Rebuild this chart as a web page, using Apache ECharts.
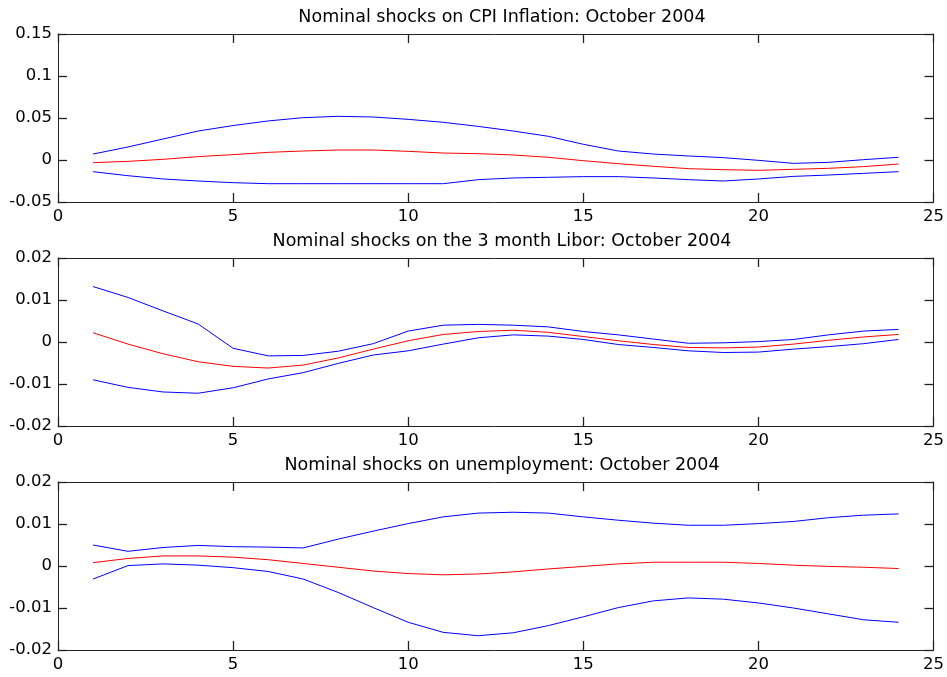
<!DOCTYPE html>
<html><head><meta charset="utf-8">
<script src="https://cdn.jsdelivr.net/npm/echarts@6/dist/echarts.min.js"></script>
<style>html,body{margin:0;padding:0;background:#fff}#c{width:947px;height:677px}</style>
</head><body><div id="c"></div>
<script>
const steps = [1,2,3,4,5,6,7,8,9,10,11,12,13,14,15,16,17,18,19,20,21,22,23,24];
const titles = [
  'Nominal shocks on CPI Inflation: October 2004',
  'Nominal shocks on the 3 month Libor: October 2004',
  'Nominal shocks on unemployment: October 2004'
];
// CPI inflation
const cpiUpper = [0.0071,0.0155,0.025,0.0345,0.041,0.0465,0.0504,0.052,0.0512,0.0484,0.0449,0.040,0.0345,0.0282,0.0187,0.0107,0.0071,0.0048,0.0028,-0.0004,-0.004,-0.0028,0.0004,0.0032];
const cpiMid   = [-0.0032,-0.0016,0.0008,0.004,0.0064,0.0091,0.0107,0.0119,0.0119,0.0103,0.0083,0.0075,0.006,0.0032,-0.0008,-0.0044,-0.0075,-0.0103,-0.0115,-0.0123,-0.0111,-0.0099,-0.0079,-0.0048];
const cpiLower = [-0.0139,-0.0187,-0.0226,-0.025,-0.027,-0.0282,-0.0282,-0.0282,-0.0282,-0.0282,-0.0282,-0.0234,-0.0214,-0.0206,-0.0198,-0.0198,-0.0214,-0.0234,-0.025,-0.0226,-0.0195,-0.0179,-0.0159,-0.0139];
// 3 month Libor
const liborUpper = [0.0132,0.0106,0.0074,0.0043,-0.0015,-0.0033,-0.0032,-0.0022,-0.0004,0.0026,0.004,0.0042,0.004,0.0036,0.0025,0.0017,0.0007,-0.0003,-0.0002,0.0001,0.0006,0.0017,0.0026,0.003];
const liborMid   = [0.0022,-0.0005,-0.0028,-0.0047,-0.0058,-0.0062,-0.0055,-0.0038,-0.0017,0.0003,0.0018,0.0025,0.0028,0.0023,0.0013,0.0003,-0.0006,-0.0013,-0.0014,-0.0012,-0.0005,0.0004,0.0012,0.0018];
const liborLower = [-0.009,-0.0108,-0.0119,-0.0122,-0.0109,-0.0088,-0.0073,-0.0051,-0.0031,-0.0021,-0.0005,0.001,0.0017,0.0014,0.0006,-0.0006,-0.0013,-0.0021,-0.0025,-0.0024,-0.0017,-0.0011,-0.0004,0.0006];
// unemployment
const unempUpper = [0.005,0.0035,0.0044,0.0049,0.0046,0.0045,0.0043,0.0064,0.0083,0.0101,0.0117,0.0126,0.0128,0.0126,0.0117,0.0109,0.0102,0.0097,0.0097,0.0101,0.0106,0.0115,0.0121,0.0124];
const unempMid   = [0.0008,0.0018,0.0024,0.0024,0.0021,0.0015,0.0006,-0.0003,-0.0012,-0.0018,-0.0021,-0.0019,-0.0014,-0.0007,-0.0001,0.0005,0.0009,0.0009,0.0009,0.0006,0.0002,-0.0001,-0.0003,-0.0006];
const unempLower = [-0.0031,0.0001,0.0005,0.0002,-0.0004,-0.0013,-0.0031,-0.0063,-0.0099,-0.0134,-0.0158,-0.0166,-0.0159,-0.0142,-0.0121,-0.0099,-0.0083,-0.0076,-0.0079,-0.0088,-0.01,-0.0114,-0.0128,-0.0134];

const yRanges = [[-0.05,0.15,0.05],[-0.02,0.02,0.01],[-0.02,0.02,0.01]];
const panels = [[cpiUpper,cpiMid,cpiLower],[liborUpper,liborMid,liborLower],[unempUpper,unempMid,unempLower]];
const tops = [34,258,482];
const H = 168;

const font = 'DejaVu Sans, Arial, sans-serif';
const grid=[], xAxis=[], yAxis=[], series=[], title=[];
function tick(){return {show:true,inside:true,length:9,lineStyle:{color:'#222',width:1.3}};}
function line(){return {show:true,onZero:false,lineStyle:{color:'#222',width:1}};}
let xi=0, yi=0;
panels.forEach((p,i)=>{
  grid.push({left:58,right:10,top:tops[i],height:H});
  title.push({text:titles[i],left:497,top:tops[i]-31,textAlign:'center',
    textStyle:{fontFamily:font,fontSize:17.5,fontWeight:'normal',color:'#000'}});
  const [mn,mx,iv] = yRanges[i];
  const bx = xi;
  xAxis.push({type:'value',gridIndex:i,position:'bottom',min:0,max:25,interval:5,
    axisLine:line(),axisTick:tick(),splitLine:{show:false},
    axisLabel:{fontFamily:font,fontSize:16.5,color:'#000',margin:6}}); xi++;
  xAxis.push({type:'value',gridIndex:i,position:'top',min:0,max:25,interval:5,
    axisLine:line(),axisTick:tick(),splitLine:{show:false},axisLabel:{show:false}}); xi++;
  const ly = yi;
  yAxis.push({type:'value',gridIndex:i,position:'left',min:mn,max:mx,interval:iv,
    axisLine:line(),axisTick:tick(),splitLine:{show:false},
    axisLabel:{fontFamily:font,fontSize:16.5,color:'#000',margin:6,
      formatter:v=>{const r=Math.round(v*1000)/1000; return r===0?'0':String(r);}}}); yi++;
  yAxis.push({type:'value',gridIndex:i,position:'right',min:mn,max:mx,interval:iv,
    axisLine:line(),axisTick:tick(),splitLine:{show:false},axisLabel:{show:false}}); yi++;
  const cols=['#0000ff','#ff0000','#0000ff'];
  p.forEach((arr,k)=>{
    series.push({type:'line',xAxisIndex:bx,yAxisIndex:ly,symbol:'none',smooth:false,
      lineStyle:{color:cols[k],width:1},
      data:steps.map((s,j)=>[s,arr[j]])});
  });
});
const chart = echarts.init(document.getElementById('c'));
chart.setOption({animation:false,title,grid,xAxis,yAxis,series});
</script></body></html>
